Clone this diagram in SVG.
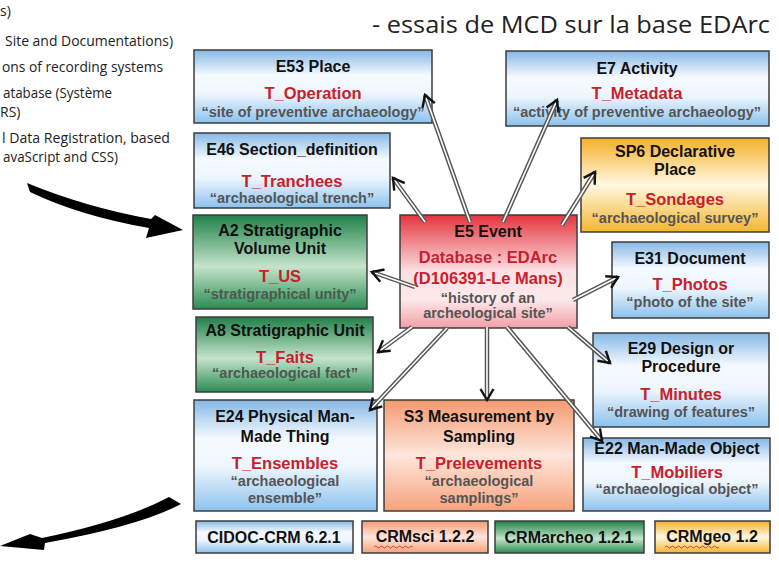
<svg xmlns="http://www.w3.org/2000/svg" xmlns:xlink="http://www.w3.org/1999/xlink" width="779" height="563" viewBox="0 0 779 563">
<defs>
<linearGradient id="gBlue" x1="0" y1="0" x2="0" y2="1">
<stop offset="0" stop-color="#86b8e6"/><stop offset="0.35" stop-color="#f6faff"/><stop offset="0.6" stop-color="#eef6fd"/><stop offset="1" stop-color="#8cc2ee"/>
</linearGradient>
<linearGradient id="gGreen" x1="0" y1="0" x2="0" y2="1">
<stop offset="0" stop-color="#1f8048"/><stop offset="0.55" stop-color="#c4e4cb"/><stop offset="1" stop-color="#2a8c52"/>
</linearGradient>
<linearGradient id="gRed" x1="0" y1="0" x2="0" y2="1">
<stop offset="0" stop-color="#e5343e"/><stop offset="0.5" stop-color="#fbe1e3"/><stop offset="0.75" stop-color="#fce9eb"/><stop offset="1" stop-color="#f29ea5"/>
</linearGradient>
<linearGradient id="gOrange" x1="0" y1="0" x2="0" y2="1">
<stop offset="0" stop-color="#f59a70"/><stop offset="0.5" stop-color="#fde6dc"/><stop offset="1" stop-color="#f7a27b"/>
</linearGradient>
<linearGradient id="gYellow" x1="0" y1="0" x2="0" y2="1">
<stop offset="0" stop-color="#f5b027"/><stop offset="0.5" stop-color="#fff8e2"/><stop offset="1" stop-color="#f6b52c"/>
</linearGradient>
<marker id="ah" markerUnits="userSpaceOnUse" viewBox="-14 -9 17 18" refX="0" refY="0" markerWidth="17" markerHeight="18" orient="auto">
<path d="M-11,-6.5 L0,0 L-11,6.5" fill="none" stroke="#111" stroke-width="2.4"/>
</marker>
<line id="c1" x1="470" y1="222" x2="425" y2="95"/>
<line id="c2" x1="425" y1="222" x2="393" y2="178"/>
<line id="c3" x1="503" y1="222" x2="557" y2="100"/>
<line id="c4" x1="562" y1="225" x2="595" y2="172"/>
<line id="c5" x1="415" y1="287" x2="372" y2="272"/>
<line id="c6" x1="573" y1="300" x2="618" y2="277"/>
<line id="c7" x1="412" y1="327" x2="378" y2="352"/>
<line id="c8" x1="447" y1="328" x2="370" y2="410"/>
<line id="c9" x1="487" y1="327" x2="487" y2="400"/>
<line id="c10" x1="507" y1="327" x2="602" y2="441"/>
<line id="c11" x1="568" y1="327" x2="610" y2="363"/>
</defs>
<style>
.box{stroke:#3c3c3c;stroke-width:1.5}
.t{font-family:"Liberation Sans",Arial,sans-serif;font-weight:bold;font-size:16px;fill:#111;text-anchor:middle}
.r{font-family:"Liberation Sans",Arial,sans-serif;font-weight:bold;font-size:16.5px;fill:#c8202c;text-anchor:middle}
.q{font-family:"Liberation Sans",Arial,sans-serif;font-weight:bold;font-size:14.5px;fill:#555;text-anchor:middle}
.qg{fill:#4b5a4f}
.side{font-family:"Open Sans","Liberation Sans",sans-serif;font-size:14px;fill:#222}
.o{stroke:#555;stroke-width:4.5;fill:none}
.i{stroke:#fff;stroke-width:1.6;fill:none}
.a{stroke:#555;stroke-width:0.1;stroke-opacity:0;marker-end:url(#ah)}
.lg{font-family:"Liberation Sans",Arial,sans-serif;font-weight:bold;font-size:16px;fill:#111;text-anchor:middle}
.sq{fill:none;stroke:#d03030;stroke-width:0.9}
</style>
<rect width="779" height="563" fill="#fff"/>

<g id="side-text">
<text class="side" x="0" y="16">s)</text>
<text class="side" x="5" y="46" textLength="168" lengthAdjust="spacingAndGlyphs">Site and Documentations)</text>
<text class="side" x="2" y="72" textLength="161" lengthAdjust="spacingAndGlyphs">ons of recording systems</text>
<text class="side" x="3" y="98" textLength="109" lengthAdjust="spacingAndGlyphs">atabase (Système</text>
<text class="side" x="0" y="117">RS)</text>
<text class="side" x="2" y="143" textLength="168" lengthAdjust="spacingAndGlyphs">l Data Registration, based</text>
<text class="side" x="3" y="162" textLength="115" lengthAdjust="spacingAndGlyphs">avaScript and CSS)</text>
</g>

<g id="title">
<text x="770" y="33" font-family="'Open Sans','Liberation Sans',sans-serif" font-size="24" fill="#222" text-anchor="end" textLength="398" lengthAdjust="spacingAndGlyphs">- essais de MCD sur la base EDArc</text>
</g>

<g id="big-arrows" fill="#000">
<path d="M27,183 Q85,207 151,219 L155,215 L183,230 L146,238 L149,228 Q80,216 30,192 Z"/>
<path d="M169,497 L181,504 Q140,526 45,543 L44,550 L0,546 L30,534 L42,538 Q124,521 169,497 Z"/>
</g>

<g id="E53"><rect class="box" x="194" y="50" width="238" height="73" fill="url(#gBlue)"/>
<text class="t" x="313" y="72">E53 Place</text><text class="r" x="313" y="99">T_Operation</text><text class="q" x="313" y="117">“site of preventive archaeology”</text></g>

<g id="E46"><rect class="box" x="194" y="133" width="196" height="75" fill="url(#gBlue)"/>
<text class="t" x="292" y="155">E46 Section_definition</text><text class="r" x="292" y="187">T_Tranchees</text><text class="q" x="292" y="203">“archaeological trench”</text></g>

<g id="E7"><rect class="box" x="506" y="51" width="263" height="75" fill="url(#gBlue)"/>
<text class="t" x="637" y="74">E7 Activity</text><text class="r" x="637" y="99">T_Metadata</text><text class="q" x="637" y="117">“activity of preventive archaeology”</text></g>

<g id="SP6"><rect class="box" x="581" y="138" width="188" height="94" fill="url(#gYellow)"/>
<text class="t" x="675" y="157">SP6 Declarative</text><text class="t" x="675" y="175">Place</text><text class="r" x="675" y="205">T_Sondages</text><text class="q" x="675" y="223">“archaeological survey”</text></g>

<g id="A2"><rect class="box" x="193" y="215" width="174" height="94" fill="url(#gGreen)"/>
<text class="t" x="280" y="236">A2 Stratigraphic</text><text class="t" x="280" y="254">Volume Unit</text><text class="r" x="280" y="282">T_US</text><text class="q qg" x="280" y="299">“stratigraphical unity”</text></g>

<g id="A8"><rect class="box" x="196" y="317" width="177" height="75" fill="url(#gGreen)"/>
<text class="t" x="285" y="336">A8 Stratigraphic Unit</text><text class="r" x="285" y="363">T_Faits</text><text class="q qg" x="285" y="378">“archaeological fact”</text></g>

<g id="E5"><rect class="box" x="400" y="215" width="177" height="113" fill="url(#gRed)"/>
<text class="t" x="488" y="237">E5 Event</text><text class="r" x="488" y="263">Database : EDArc</text><text class="r" x="488" y="284">(D106391-Le Mans)</text>
<text class="q" x="488" y="303" font-size="15.5">“history of an</text><text class="q" x="488" y="318" font-size="15.5">archeological site”</text></g>

<g id="E31"><rect class="box" x="612" y="242" width="157" height="76" fill="url(#gBlue)"/>
<text class="t" x="690" y="264">E31 Document</text><text class="r" x="690" y="290">T_Photos</text><text class="q" x="690" y="307">“photo of the site”</text></g>

<g id="E29"><rect class="box" x="593" y="333" width="176" height="94" fill="url(#gBlue)"/>
<text class="t" x="681" y="354">E29 Design or</text><text class="t" x="681" y="372">Procedure</text><text class="r" x="681" y="400">T_Minutes</text><text class="q" x="681" y="417">“drawing of features”</text></g>

<g id="E24"><rect class="box" x="194" y="400" width="183" height="111" fill="url(#gBlue)"/>
<text class="t" x="285" y="422">E24 Physical Man-</text><text class="t" x="285" y="442">Made Thing</text><text class="r" x="285" y="469">T_Ensembles</text><text class="q" x="285" y="486">“archaeological</text><text class="q" x="285" y="503">ensemble”</text></g>

<g id="S3"><rect class="box" x="384" y="400" width="190" height="111" fill="url(#gOrange)"/>
<text class="t" x="479" y="422">S3 Measurement by</text><text class="t" x="479" y="442">Sampling</text><text class="r" x="479" y="469">T_Prelevements</text><text class="q" x="479" y="486">“archaeological</text><text class="q" x="479" y="503">samplings”</text></g>

<g id="E22"><rect class="box" x="583" y="438" width="187" height="73" fill="url(#gBlue)"/>
<text class="t" x="677" y="454">E22 Man-Made Object</text><text class="r" x="677" y="478">T_Mobiliers</text><text class="q" x="677" y="494">“archaeological object”</text></g>

<g id="connectors">
<use xlink:href="#c1" class="o"/><use xlink:href="#c1" class="i"/><use xlink:href="#c1" class="a"/>
<use xlink:href="#c2" class="o"/><use xlink:href="#c2" class="i"/><use xlink:href="#c2" class="a"/>
<use xlink:href="#c3" class="o"/><use xlink:href="#c3" class="i"/><use xlink:href="#c3" class="a"/>
<use xlink:href="#c4" class="o"/><use xlink:href="#c4" class="i"/><use xlink:href="#c4" class="a"/>
<use xlink:href="#c5" class="o"/><use xlink:href="#c5" class="i"/><use xlink:href="#c5" class="a"/>
<use xlink:href="#c6" class="o"/><use xlink:href="#c6" class="i"/><use xlink:href="#c6" class="a"/>
<use xlink:href="#c7" class="o"/><use xlink:href="#c7" class="i"/><use xlink:href="#c7" class="a"/>
<use xlink:href="#c8" class="o"/><use xlink:href="#c8" class="i"/><use xlink:href="#c8" class="a"/>
<use xlink:href="#c9" class="o"/><use xlink:href="#c9" class="i"/><use xlink:href="#c9" class="a"/>
<use xlink:href="#c10" class="o"/><use xlink:href="#c10" class="i"/><use xlink:href="#c10" class="a"/>
<use xlink:href="#c11" class="o"/><use xlink:href="#c11" class="i"/><use xlink:href="#c11" class="a"/>
</g>

<g id="legend">
<g id="L-cidoc"><rect class="box" x="196" y="521" width="157" height="32" fill="url(#gBlue)"/><text class="lg" x="274" y="543">CIDOC-CRM 6.2.1</text></g>
<g id="L-sci"><rect class="box" x="362" y="521" width="126" height="32" fill="url(#gOrange)"/><text class="lg" x="425" y="542">CRMsci 1.2.2</text>
<path class="sq" d="M374,547 q1.5,-2 3,0 t3,0 t3,0 t3,0 t3,0 t3,0 t3,0 t3,0 t3,0 t3,0 t3,0 t3,0 t3,0"/></g>
<g id="L-archeo"><rect class="box" x="495" y="521" width="149" height="32" fill="url(#gGreen)"/><text class="lg" x="569" y="543">CRMarcheo 1.2.1</text></g>
<g id="L-geo"><rect class="box" x="655" y="521" width="115" height="32" fill="url(#gYellow)"/><text class="lg" x="712" y="542">CRMgeo 1.2</text>
<path class="sq" d="M665,547 q1.5,-2 3,0 t3,0 t3,0 t3,0 t3,0 t3,0 t3,0 t3,0 t3,0 t3,0 t3,0 t3,0 t3,0 t3,0 t3,0 t3,0 t3,0 t3,0"/></g>
</g>
</svg>
